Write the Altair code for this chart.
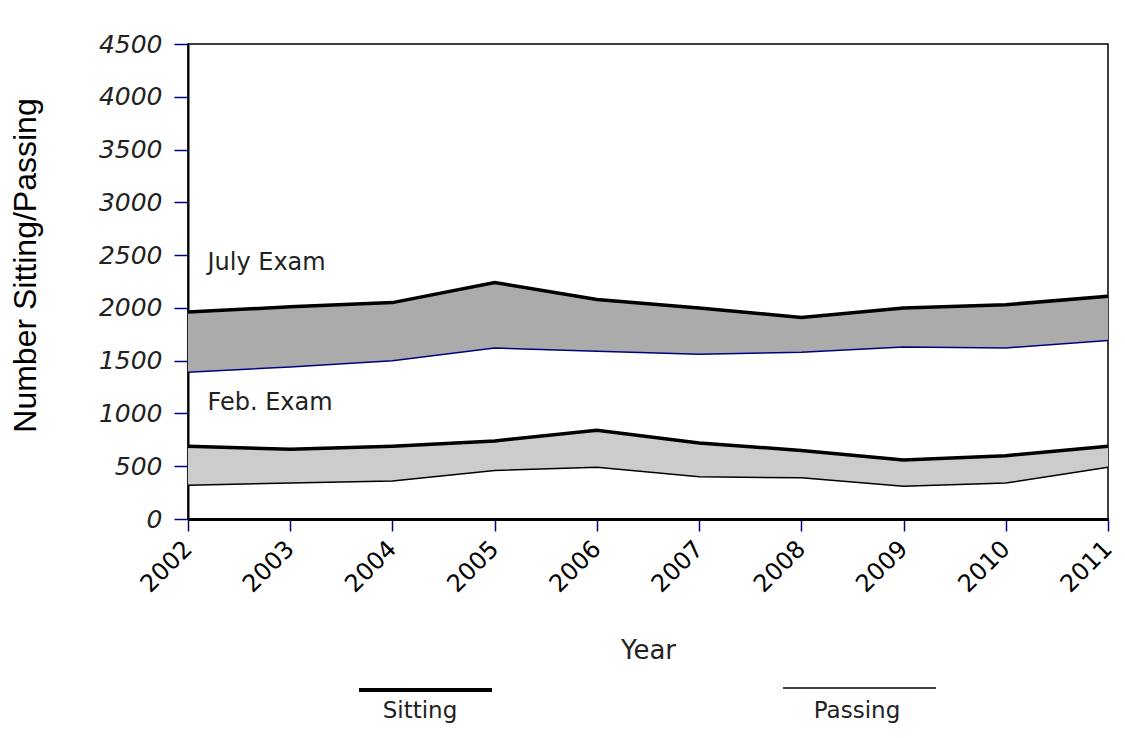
import altair as alt
import pandas as pd

years = [2002, 2003, 2004, 2005, 2006, 2007, 2008, 2009, 2010, 2011]
july_sitting = [1960, 2010, 2050, 2240, 2080, 2000, 1910, 2000, 2030, 2110]
july_passing = [1390, 1440, 1500, 1620, 1590, 1560, 1580, 1630, 1620, 1690]
feb_sitting = [690, 660, 690, 740, 840, 720, 650, 560, 600, 690]
feb_passing = [320, 340, 360, 460, 490, 400, 390, 310, 340, 490]
y_ticks = [0, 500, 1000, 1500, 2000, 2500, 3000, 3500, 4000, 4500]

exam_labels = ["July Exam", "Feb. Exam"]
label_x = [2002.19, 2002.19]
label_y = [2430, 1100]

rows = []
for i, yr in enumerate(years):
    rows.append({"year": yr, "exam": "July", "sitting": july_sitting[i], "passing": july_passing[i]})
    rows.append({"year": yr, "exam": "Feb", "sitting": feb_sitting[i], "passing": feb_passing[i]})
df = pd.DataFrame(rows)
lab = pd.DataFrame({"label": exam_labels, "x": label_x, "y": label_y})

W, H = 920, 475
HF = "DejaVu Sans"

x = alt.X("year:Q", scale=alt.Scale(domain=[2002, 2011], nice=False, zero=False),
          axis=alt.Axis(values=years, format="d", title="Year", labelAngle=-45,
                        labelFontSize=24, labelFont=HF, labelColor="black",
                        labelBaseline="middle", labelAlign="right",
                        tickColor="#000080", tickSize=12, tickWidth=1.5,
                        domainColor="black", domainWidth=3, grid=False,
                        labelPadding=14,
                        titleFont=HF, titleFontSize=26, titleFontWeight="normal",
                        titleColor="#222222",
                        titleY=131, titleBaseline="middle"))
y = alt.Y("sitting:Q", scale=alt.Scale(domain=[0, 4500], nice=False),
          axis=alt.Axis(values=y_ticks, format="d", title="Number Sitting/Passing",
                        labelFontSize=25, labelFont=HF, labelFontStyle="italic",
                        labelFontWeight="normal",
                        labelColor="#222222", tickColor="#000080", tickSize=14, tickWidth=1.5,
                        labelPadding=12, domainColor="black", domainWidth=2, grid=False,
                        titleFont="Liberation Sans", titleFontSize=32, titleFontWeight="normal",
                        titleColor="black",
                        titleX=-163, titleY=221, titleAngle=-90, titleBaseline="middle",
                        titleAlign="center"))

area = alt.Chart(df).mark_area(opacity=1).encode(
    x=x, y=y, y2="passing:Q",
    fill=alt.Fill("exam:N", scale=alt.Scale(domain=["July", "Feb"], range=["#ababab", "#cccccc"]), legend=None),
    detail="exam:N",
)

sit_line = alt.Chart(df).mark_line(color="black", strokeWidth=3.5).encode(
    x="year:Q", y="sitting:Q", detail="exam:N")

pass_line = alt.Chart(df).mark_line(strokeWidth=1.5).encode(
    x="year:Q", y="passing:Q",
    color=alt.Color("exam:N", scale=alt.Scale(domain=["July", "Feb"], range=["#000080", "black"]), legend=None),
    detail="exam:N")

labels = alt.Chart(lab).mark_text(align="left", baseline="middle", fontSize=24,
                                  font=HF, color="#222222").encode(
    x="x:Q", y="y:Q", text="label:N")

leg = pd.DataFrame({"name": ["Sitting", "Passing"]})
leg_sit = alt.Chart(leg).transform_filter(alt.datum.name == "Sitting").mark_rule(
    color="black", strokeWidth=4, clip=False).encode(
    x=alt.value(171), x2=alt.value(304), y=alt.value(646))
leg_pass = alt.Chart(leg).transform_filter(alt.datum.name == "Passing").mark_rule(
    color="black", strokeWidth=1.5, clip=False).encode(
    x=alt.value(595), x2=alt.value(748), y=alt.value(644))
leg_t1 = alt.Chart(leg).transform_filter(alt.datum.name == "Sitting").mark_text(
    fontSize=23, font=HF, color="#222222", clip=False).encode(
    x=alt.value(232), y=alt.value(667), text="name:N")
leg_t2 = alt.Chart(leg).transform_filter(alt.datum.name == "Passing").mark_text(
    fontSize=23, font=HF, color="#222222", clip=False).encode(
    x=alt.value(669), y=alt.value(667), text="name:N")

chart = alt.layer(area, sit_line, pass_line, labels, leg_sit, leg_pass, leg_t1, leg_t2).properties(
    width=W, height=H,
    autosize=alt.AutoSizeParams(type="none"),
    padding={"left": 180, "top": 36, "right": 9, "bottom": 209},
    background="white",
).configure_view(stroke="black", strokeWidth=1.5)

chart.save("out.html", embed_options={"renderer": "svg", "actions": False})
